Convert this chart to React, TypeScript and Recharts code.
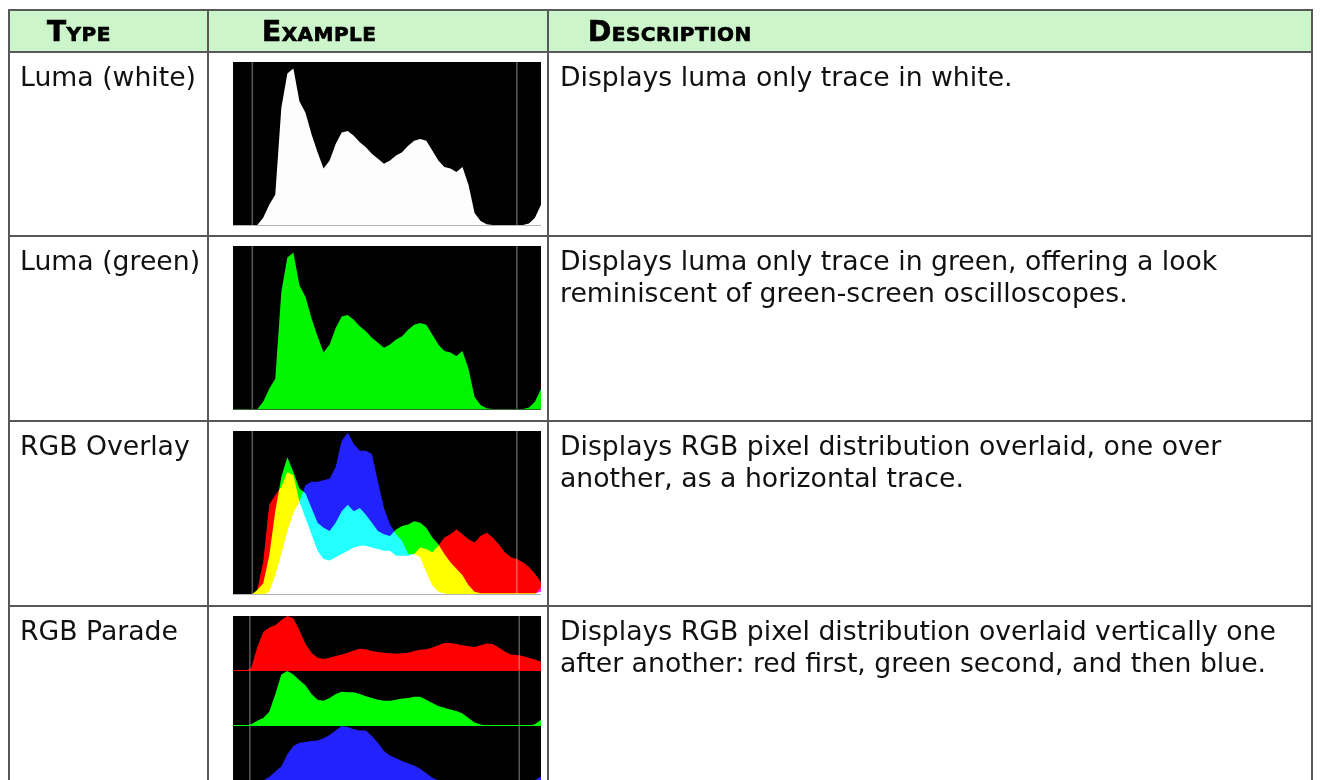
import { AreaChart, Area, XAxis, YAxis, ReferenceLine } from "recharts";

// histogram bins (0-255 code values)
const LEVELS = [
  0, 5, 10, 15, 20, 25, 30, 35, 40, 45, 50, 55, 60, 65, 70, 75, 80, 85, 90, 95, 100, 105, 110, 115, 120, 125,
  130, 135, 140, 145, 150, 155, 160, 165, 170, 175, 180, 185, 190, 195, 200, 205, 210, 215, 220, 225, 230, 235,
  240, 245, 250, 255,
];

const LUMA = [
  0, 0, 0, 0, 0.5, 5, 13, 19, 72, 93, 96, 76, 69, 56, 45, 35, 40, 50, 57, 58, 55, 51, 48, 44, 41, 38,
  40, 43, 45, 49, 52, 53, 52, 46, 40, 36, 35, 33, 36, 25, 8, 3, 1, 0.6, 0.6, 0.6, 0.6, 0.6,
  0.6, 1.5, 5, 13,
];

const OVERLAY_RED = [
  0, 0, 0, 0, 3, 20, 55, 61, 66, 75, 73, 57, 47, 37, 27, 22, 21, 23, 25, 27, 29, 30, 30, 29, 28, 27,
  27, 24, 24, 24, 25, 29, 28, 26, 30, 35, 37, 40, 37, 34, 32, 36, 38, 35, 31, 26, 23, 22,
  20, 17, 13, 8,
];
const OVERLAY_GREEN = [
  0, 0, 0, 0, 3, 7, 24, 51, 72, 84, 75, 65, 62, 53, 44, 41, 39, 44, 51, 55, 51, 53, 49, 44, 39, 37,
  36, 40, 42, 43, 45, 44, 41, 35, 31, 25, 20, 16, 12, 6, 2, 1, 1, 1, 1, 1, 1, 1,
  1, 1, 1, 2,
];
const OVERLAY_BLUE = [
  0, 0, 0, 0, 0, 0, 2, 12, 25, 39, 50, 57, 67, 69, 69, 70, 71, 78, 94, 99, 92, 88, 88, 86, 69, 53,
  43, 37, 33, 25, 25, 23, 14, 6, 2, 1, 0, 0, 0, 0, 0, 0, 0, 0, 0, 0, 0, 0,
  0, 0, 0, 5,
];

const PARADE_RED = [
  0, 0, 0, 5, 41, 68, 76, 80, 89, 96, 92, 71, 47, 32, 23, 21, 23, 26, 29, 32, 36, 39, 38, 35, 33, 32,
  31, 30, 31, 32, 35, 37, 38, 41, 45, 49, 49, 47, 45, 43, 42, 45, 48, 47, 41, 34, 29, 28,
  26, 23, 20, 16,
];
const PARADE_GREEN = [
  0, 0, 0, 3, 9, 14, 25, 55, 90, 96, 90, 80, 71, 56, 46, 44, 49, 56, 60, 59, 59, 56, 52, 49, 46, 44,
  44, 46, 48, 49, 51, 51, 46, 40, 35, 32, 29, 26, 22, 14, 6, 2.5, 1, 1, 1, 1, 1, 1,
  1, 1, 3, 11,
];
const PARADE_BLUE = [
  0, 0, 0, 0, 0, 1, 7, 17, 26, 48, 63, 69, 70, 72, 73, 77, 83, 91, 99, 97, 93, 91, 91, 81, 69, 54,
  46, 41, 36, 32, 28, 22, 14, 6, 1, 0, 0, 0, 0, 0, 0, 0, 0, 0, 0, 0, 0, 0,
  0, 0, 2, 8,
];

const GUIDES = [16, 235];
const PARADE_GUIDES = [14, 237];

const COLS = [197, 338, 762];
const HEADERS = ["Type", "Example", "Description"];
const HEADER_PAD = [37, 53, 39];
const TYPES = ["Luma (white)", "Luma (green)", "RGB Overlay", "RGB Parade"];
const DESCRIPTIONS = [
  ["Displays luma only trace in white."],
  ["Displays luma only trace in green, offering a look", "reminiscent of green-screen oscilloscopes."],
  ["Displays RGB pixel distribution overlaid, one over", "another, as a horizontal trace."],
  ["Displays RGB pixel distribution overlaid vertically one", "after another: red first, green second, and then blue."],
];
const ROW_H = [184, 185, 185, 185];

const W = 308;
const H = 164;
const BORDER = "2px solid #585858";

type Series = { key: string; values: number[]; color: string };

function Histogram({
  height,
  series,
  guides,
  baseline,
  max,
}: {
  height: number;
  series: Series[];
  guides: number[];
  baseline?: string;
  max?: number;
}) {
  const data = LEVELS.map((x, i) => {
    const p: Record<string, number> = { x };
    series.forEach((s) => (p[s.key] = s.values[i]));
    return p;
  });
  return (
    <AreaChart width={W} height={height} data={data} margin={{ top: 0, right: 0, bottom: 0, left: 0 }}>
      <XAxis dataKey="x" type="number" domain={[0, 255]} hide />
      <YAxis type="number" domain={[0, max ?? "dataMax"]} hide />
      {series.map((s) => (
        <Area
          key={s.key}
          dataKey={s.key}
          type="linear"
          fill={s.color}
          fillOpacity={1}
          stroke="none"
          isAnimationActive={false}
        />
      ))}
      {guides.map((g) => (
        <ReferenceLine key={g} x={g} stroke="rgba(255,255,255,0.35)" strokeWidth={1.5} />
      ))}
      {baseline && <ReferenceLine y={0} stroke={baseline} strokeWidth={2} />}
    </AreaChart>
  );
}

function Example({ index }: { index: number }) {
  if (index === 0)
    return <Histogram height={H} max={100} guides={GUIDES} baseline="#b4b4b4" series={[{ key: "l", values: LUMA, color: "#fdfdfd" }]} />;
  if (index === 1)
    return <Histogram height={H} max={100} guides={GUIDES} baseline="#2a6a2a" series={[{ key: "l", values: LUMA, color: "#00f500" }]} />;
  if (index === 2)
    return (
      <div className="screen">
        <Histogram
          height={H}
          max={100}
          guides={GUIDES}
          baseline="#b4b4b4"
          series={[
            { key: "r", values: OVERLAY_RED, color: "#ff0000" },
            { key: "g", values: OVERLAY_GREEN, color: "#00ff00" },
            { key: "b", values: OVERLAY_BLUE, color: "#2222ff" },
          ]}
        />
      </div>
    );
  return (
    <div>
      <Histogram height={55} guides={PARADE_GUIDES} baseline="#ff0000" series={[{ key: "r", values: PARADE_RED, color: "#ff0000" }]} />
      <Histogram height={55} guides={PARADE_GUIDES} baseline="#00ff00" series={[{ key: "g", values: PARADE_GREEN, color: "#00ff00" }]} />
      <Histogram height={55} guides={PARADE_GUIDES} baseline="#2222ff" series={[{ key: "b", values: PARADE_BLUE, color: "#2222ff" }]} />
    </div>
  );
}

export default function App() {
  const cell = (j: number): React.CSSProperties => ({
    width: COLS[j],
    boxSizing: "content-box",
    borderRight: BORDER,
    flex: "none",
  });
  return (
    <div style={{ fontFamily: "'DejaVu Sans', Verdana, sans-serif", color: "#111", marginTop: 1 }}>
      <style>{`.screen .recharts-area path { mix-blend-mode: screen; }`}</style>
      <div style={{ width: COLS[0] + COLS[1] + COLS[2] + 6, borderTop: BORDER, borderLeft: BORDER }}>
        <div style={{ display: "flex", height: 40, borderBottom: BORDER, background: "#cdf5cb" }}>
          {HEADERS.map((h, j) => (
            <div
              key={h}
              style={{
                ...cell(j),
                display: "flex",
                alignItems: "center",
                paddingLeft: HEADER_PAD[j],
                width: COLS[j] - HEADER_PAD[j],
                fontWeight: 700,
                fontSize: 28,
                fontVariant: "small-caps",
                letterSpacing: 0.5,
                color: "#000",
                WebkitTextStroke: "0.7px #000",
              }}
            >
              {h}
            </div>
          ))}
        </div>
        {TYPES.map((t, i) => (
          <div key={t} style={{ display: "flex", height: ROW_H[i] - 2, borderBottom: BORDER }}>
            <div style={{ ...cell(0), paddingLeft: 10, width: COLS[0] - 10, paddingTop: 8, fontSize: 26.7, lineHeight: "32px", whiteSpace: "nowrap" }}>
              {t}
            </div>
            <div style={{ ...cell(1), paddingLeft: 24, width: COLS[1] - 24, paddingTop: 9 }}>
              <div style={{ width: W, height: H, background: "#000", overflow: "hidden" }}>
                <Example index={i} />
              </div>
            </div>
            <div style={{ ...cell(2), paddingLeft: 11, width: COLS[2] - 11, paddingTop: 8, fontSize: 26.7, lineHeight: "32px", whiteSpace: "nowrap" }}>
              {DESCRIPTIONS[i].map((line, k) => (
                <div key={k}>{line}</div>
              ))}
            </div>
          </div>
        ))}
      </div>
    </div>
  );
}
